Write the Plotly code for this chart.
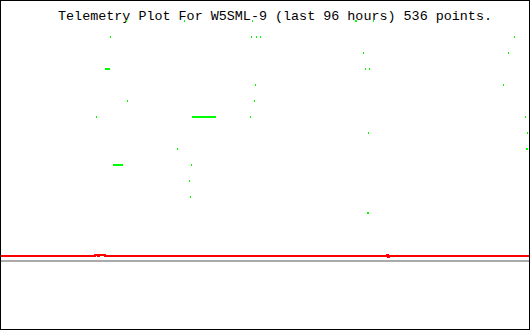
import plotly.graph_objects as go

TITLE = "Telemetry Plot For W5SML-9 (last 96 hours) 536 points."

# Isolated green readings (hours axis 0..96, raw counts)
green_hours = [22.818, 33.364, 45.727, 64.455, 64.636, 67.727,
               19.909, 45.545, 46.455, 47.182, 93.364,
               65.909, 92.273,
               66.273, 67.000,
               46.273, 91.364,
               23.000, 46.091,
               17.364, 45.364, 95.364,
               66.818, 95.727,
               32.091, 95.545, 95.727,
               34.636,
               34.273,
               34.455,
               66.636, 66.818]
green_values = [309, 309, 309, 309, 309, 309,
                293, 293, 293, 293, 293,
                277, 277,
                261, 261,
                245, 245,
                229, 229,
                213, 213, 213,
                197, 197,
                181, 181, 181,
                165,
                149,
                133,
                117, 117]

# Runs of consecutive green readings at a constant level
run_start = [19.000, 34.818, 20.455]
run_end = [19.727, 39.000, 22.091]
run_value = [261, 213, 165]

# Red series (step changes)
red_hours = [0, 17.091, 17.636, 17.818, 18.909, 70.182, 70.364, 70.545, 96]
red_values = [74, 75, 74, 75, 74, 75, 73, 74, 74]

# Gray reference level
gray_hours = [0, 96]
gray_values = [69, 69]

GREEN = "#00ff00"
X_RANGE = [-2 / 11, 529 * 2 / 11]
Y_RANGE = [0, 330]

fig = go.Figure()

# title drawn as text layer beneath the data marks
fig.add_trace(go.Scatter(
    x=[X_RANGE[0] + (X_RANGE[1] - X_RANGE[0]) * 275 / 530],
    y=[Y_RANGE[1] - 16.5], mode="text", text=[TITLE],
    textposition="middle center",
    textfont=dict(family="Liberation Mono", size=13.4, color="black"),
    hoverinfo="skip"))

fig.add_trace(go.Scatter(x=gray_hours, y=gray_values, mode="lines",
                         line=dict(color="#aaaaaa", width=2), hoverinfo="skip"))
fig.add_trace(go.Scatter(x=red_hours, y=red_values, mode="lines",
                         line=dict(color="#ff0000", width=2, shape="hv"),
                         hoverinfo="skip"))

rx, ry = [], []
for s, e, v in zip(run_start, run_end, run_value):
    rx += [s, e, None]
    ry += [v, v, None]
fig.add_trace(go.Scatter(x=rx, y=ry, mode="lines+markers",
                         line=dict(color=GREEN, width=2),
                         marker=dict(symbol="line-ns", size=1.43, color=GREEN,
                                     line=dict(color=GREEN, width=1)),
                         hoverinfo="skip"))
fig.add_trace(go.Scatter(x=green_hours, y=green_values, mode="markers",
                         marker=dict(symbol="line-ns", size=1.43, color=GREEN,
                                     line=dict(color=GREEN, width=1)),
                         hoverinfo="skip"))

fig.update_layout(
    width=530, height=330,
    margin=dict(l=0, r=0, t=0, b=0),
    paper_bgcolor="white", plot_bgcolor="white",
    showlegend=False,
    xaxis=dict(range=X_RANGE, visible=False,
               showgrid=False, zeroline=False, fixedrange=True),
    yaxis=dict(range=Y_RANGE, visible=False,
               showgrid=False, zeroline=False, fixedrange=True),
    shapes=[dict(type="rect", xref="paper", yref="paper", x0=0, x1=1, y0=0, y1=1,
                 line=dict(color="black", width=2), fillcolor="rgba(0,0,0,0)")],
)

fig.write_html("out.html")
